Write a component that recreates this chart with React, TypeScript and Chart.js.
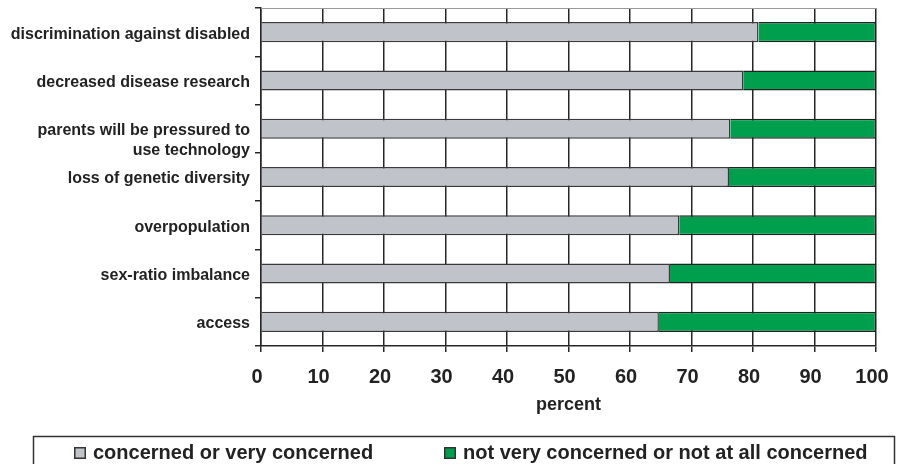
import React, { useEffect, useRef } from 'react';
import { Chart, registerables } from 'chart.js';

Chart.register(...registerables);

const categories: (string | string[])[] = [
  'discrimination against disabled',
  'decreased disease research',
  ['', 'parents will be pressured to', 'use technology'],
  'loss of genetic diversity',
  'overpopulation',
  'sex-ratio imbalance',
  'access',
];

const concerned = [80.9, 78.4, 76.3, 76.1, 68.0, 66.5, 64.7];
const notConcerned = [19.1, 21.6, 23.7, 23.9, 32.0, 33.5, 35.3];

const seriesLabels = ['concerned or very concerned', 'not very concerned or not at all concerned'];
const xAxisTitle = 'percent';

const FONT = "'Liberation Sans', Arial, Helvetica, sans-serif";
const INK = '#222222';
const LINE = '#262626';

const legendBox = {
  id: 'legendBox',
  afterDraw(chart: any) {
    const ctx = chart.ctx as CanvasRenderingContext2D;
    ctx.save();
    ctx.strokeStyle = '#333333';
    ctx.lineWidth = 1.5;
    ctx.strokeRect(33.5, 436.5, 861, 40);
    const xs = [74, 444];
    chart.data.datasets.forEach((ds: any, i: number) => {
      const x = xs[i];
      ctx.fillStyle = ds.backgroundColor;
      ctx.fillRect(x, 447, 12, 12);
      ctx.strokeStyle = '#333333';
      ctx.lineWidth = 1.5;
      ctx.strokeRect(x + 0.75, 447.75, 10.5, 10.5);
      ctx.fillStyle = INK;
      ctx.font = `bold 20px ${FONT}`;
      ctx.textBaseline = 'middle';
      ctx.textAlign = 'left';
      ctx.fillText(ds.label, x + 19, 453);
    });
    ctx.restore();
  },
};

const topLine = {
  id: 'topLine',
  afterDatasetsDraw(chart: any) {
    const { ctx, chartArea } = chart;
    ctx.save();
    ctx.strokeStyle = '#9a9a9a';
    ctx.lineWidth = 1;
    ctx.beginPath();
    ctx.moveTo(chartArea.left, Math.round(chartArea.top) + 0.5);
    ctx.lineTo(chartArea.right, Math.round(chartArea.top) + 0.5);
    ctx.stroke();
    ctx.restore();
  },
};

export default function App() {
  const ref = useRef<HTMLCanvasElement | null>(null);

  useEffect(() => {
    if (!ref.current) return;
    Chart.defaults.font.family = FONT;
    const chart = new Chart(ref.current, {
      type: 'bar',
      data: {
        labels: categories as any,
        datasets: [
          {
            label: seriesLabels[0],
            data: concerned,
            backgroundColor: '#c0c3c9',
            borderColor: '#3a3a3a',
            borderWidth: 1.5,
            barPercentage: 0.83,
            categoryPercentage: 0.5,
          },
          {
            label: seriesLabels[1],
            data: notConcerned,
            backgroundColor: '#009f4d',
            borderColor: '#222222',
            borderWidth: 1.5,
            barPercentage: 0.83,
            categoryPercentage: 0.5,
          },
        ],
      },
      options: {
        indexAxis: 'y',
        animation: false,
        responsive: false,
        layout: { padding: { top: 8, left: 0, right: 24, bottom: 0 } },
        plugins: {
          legend: { display: false },
          tooltip: { enabled: false },
        },
        scales: {
          x: {
            stacked: true,
            min: 0,
            max: 100,
            ticks: {
              stepSize: 10,
              color: INK,
              font: { size: 20, weight: 'bold' },
              padding: 13,
              labelOffset: -4,
              autoSkip: false,
              maxRotation: 0,
            },
            grid: {
              color: LINE,
              lineWidth: 1.5,
              tickLength: 6,
              tickColor: LINE,
            },
            border: { color: LINE, width: 1.5 },
            title: {
              display: true,
              text: xAxisTitle,
              color: INK,
              font: { size: 18, weight: 'bold' },
              padding: { top: 0, bottom: 48 },
            },
            afterFit: (s: any) => {
              s.height = 118;
              s.paddingLeft = 0;
              s.paddingRight = 0;
            },
          },
          y: {
            stacked: true,
            ticks: {
              color: INK,
              font: { size: 16, weight: 'bold', lineHeight: 1.25 },
              padding: 5,
              labelOffset: 2,
              autoSkip: false,
            },
            grid: {
              offset: true,
              drawOnChartArea: false,
              tickLength: 6,
              tickColor: LINE,
              lineWidth: 1.5,
            },
            border: { color: LINE, width: 1.5 },
            afterFit: (s: any) => {
              s.width = 261;
              s.paddingTop = 0;
              s.paddingBottom = 0;
            },
          },
        },
      },
      plugins: [legendBox, topLine],
    });
    return () => chart.destroy();
  }, []);

  return (
    <div style={{ position: 'absolute', left: 0, top: 0, width: 900, height: 464, background: '#ffffff' }}>
      <canvas ref={ref} width={900} height={464} style={{ display: 'block' }} />
    </div>
  );
}
